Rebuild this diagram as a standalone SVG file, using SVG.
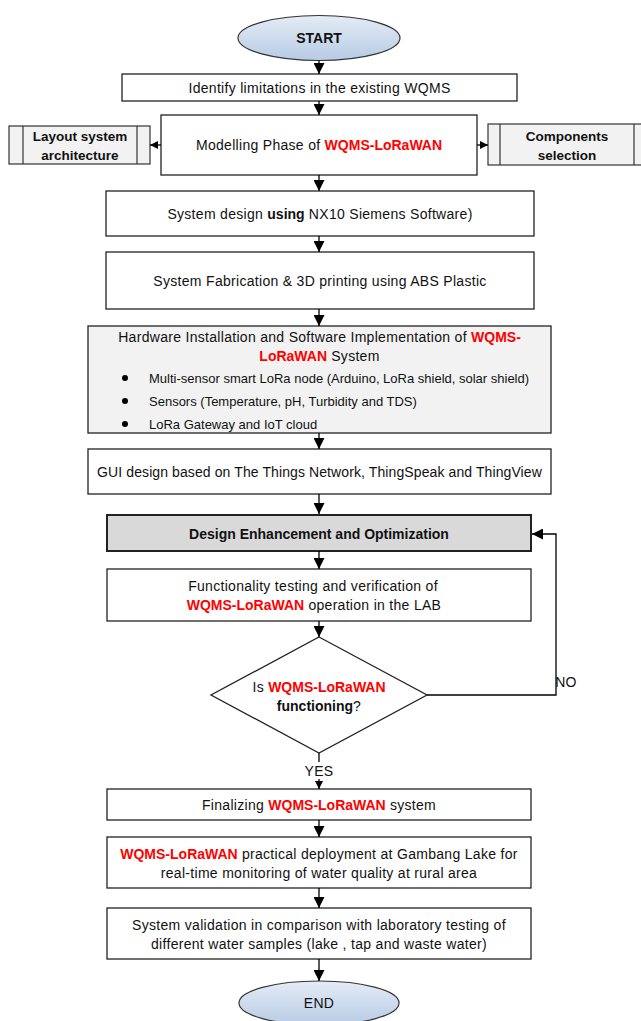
<svg xmlns="http://www.w3.org/2000/svg" width="641" height="1021" viewBox="0 0 641 1021">
<defs>
<linearGradient id="eg" x1="0" y1="0" x2="0" y2="1">
<stop offset="0" stop-color="#e4ecf6"/>
<stop offset="1" stop-color="#b7cbe4"/>
</linearGradient>
<marker id="ah" markerWidth="11" markerHeight="11" refX="11" refY="5.5" orient="auto" markerUnits="userSpaceOnUse">
<path d="M0,0 L11,5.5 L0,11 z" fill="#000"/>
</marker>
<marker id="ahs" markerWidth="8" markerHeight="8" refX="8" refY="4" orient="auto" markerUnits="userSpaceOnUse">
<path d="M0,0 L8,4 L0,8 z" fill="#000"/>
</marker>
</defs>
<style>
.box{fill:#fff;stroke:#222;stroke-width:1.3}
.grey{fill:#f2f2f2;stroke:#222;stroke-width:1.3}
.dark{fill:#d9d9d9;stroke:#222;stroke-width:2}
.ell{fill:url(#eg);stroke:#333;stroke-width:1.2}
.side{fill:#f2f2f2;stroke:#333;stroke-width:1.2}
text{font-family:"Liberation Sans",Arial,sans-serif;font-size:14px;letter-spacing:0.3px;fill:#111;text-anchor:middle;dominant-baseline:central}
.b{font-weight:bold;letter-spacing:0}
.r{fill:#ff0000;font-weight:bold;letter-spacing:0}
.l{text-anchor:start}
.s{font-size:13px;letter-spacing:0}
.sb{font-size:13.5px}
.con{stroke:#000;stroke-width:1.3;fill:none}
</style>

<g id="start">
<ellipse class="ell" cx="319" cy="38" rx="81" ry="22.5"/>
<text x="319" y="38" class="b">START</text>
</g>

<g id="identify">
<rect class="box" x="122" y="74" width="395" height="27"/>
<text x="319.5" y="88">Identify limitations in the existing WQMS</text>
</g>

<g id="modelling">
<rect class="box" x="161" y="115" width="316" height="60"/>
<text x="319" y="145">Modelling Phase of <tspan class="r">WQMS-LoRaWAN</tspan></text>
</g>

<g id="layout">
<rect class="side" x="9" y="126" width="141" height="38"/>
<line x1="23" y1="126" x2="23" y2="164" stroke="#333" stroke-width="1.2"/>
<line x1="137" y1="126" x2="137" y2="164" stroke="#333" stroke-width="1.2"/>
<text x="80" y="136" class="b sb">Layout system</text>
<text x="80" y="155" class="b sb">architecture</text>
</g>

<g id="components">
<rect class="side" x="488" y="124" width="160" height="41"/>
<line x1="500" y1="124" x2="500" y2="165" stroke="#333" stroke-width="1.2"/>
<line x1="634" y1="124" x2="634" y2="165" stroke="#333" stroke-width="1.2"/>
<text x="567" y="136" class="b sb">Components</text>
<text x="567" y="155" class="b sb">selection</text>
</g>

<g id="sysdesign">
<rect class="box" x="106" y="191" width="428" height="45"/>
<text x="320" y="214">System design <tspan class="b">using</tspan>  NX10 Siemens Software)</text>
</g>

<g id="fabrication">
<rect class="box" x="106" y="252" width="428" height="57"/>
<text x="320" y="281">System Fabrication &amp; 3D printing using ABS Plastic</text>
</g>

<g id="hardware">
<rect class="grey" x="88" y="326" width="463" height="107"/>
<text x="319.5" y="337">Hardware Installation and Software Implementation of <tspan class="r">WQMS-</tspan></text>
<text x="319.5" y="356"><tspan class="r">LoRaWAN</tspan> System</text>
<circle cx="125" cy="378" r="3"/>
<circle cx="125" cy="401" r="3"/>
<circle cx="125" cy="424" r="3"/>
<text x="149" y="378" class="l s">Multi-sensor smart LoRa node (Arduino, LoRa shield, solar shield)</text>
<text x="149" y="401" class="l s">Sensors (Temperature, pH, Turbidity and TDS)</text>
<text x="149" y="424" class="l s">LoRa Gateway and IoT cloud</text>
</g>

<g id="gui">
<rect class="box" x="88" y="449" width="463" height="45"/>
<text x="319.5" y="472" style="letter-spacing:0.1px">GUI design based on The Things Network, ThingSpeak and ThingView</text>
</g>

<g id="enhancement">
<rect class="dark" x="107" y="515" width="424" height="36"/>
<text x="319" y="534" class="b">Design Enhancement and Optimization</text>
</g>

<g id="functionality">
<rect class="box" x="107" y="569" width="424" height="52"/>
<text x="313" y="586">Functionality testing and verification  of</text>
<text x="314" y="605"><tspan class="r">WQMS-LoRaWAN</tspan> operation in the LAB</text>
</g>

<g id="decision">
<polygon class="box" points="319,637 427,695 319,753 211,695"/>
<text x="319" y="687">Is <tspan class="r">WQMS-LoRaWAN</tspan></text>
<text x="319" y="706"><tspan class="b">functioning</tspan>?</text>
</g>

<g id="finalizing">
<rect class="box" x="107" y="789" width="424" height="31"/>
<text x="319" y="805">Finalizing <tspan class="r">WQMS-LoRaWAN</tspan> system</text>
</g>

<g id="deployment">
<rect class="box" x="107" y="837" width="424" height="51"/>
<text x="319" y="854"><tspan class="r">WQMS-LoRaWAN</tspan> practical deployment at Gambang Lake for</text>
<text x="319" y="873">real-time monitoring of water quality at rural area</text>
</g>

<g id="validation">
<rect class="box" x="107" y="908" width="424" height="51"/>
<text x="319" y="925">System validation in comparison with laboratory testing of</text>
<text x="319" y="944">different water samples (lake , tap and waste water)</text>
</g>

<g id="end">
<ellipse class="ell" cx="319" cy="1003" rx="80" ry="22"/>
<text x="319" y="1003">END</text>
</g>

<g id="connectors">
<line class="con" x1="319" y1="60.5" x2="319" y2="74" marker-end="url(#ah)"/>
<line class="con" x1="319" y1="101" x2="319" y2="115" marker-end="url(#ah)"/>
<line class="con" x1="161" y1="145" x2="150" y2="145" marker-end="url(#ahs)"/>
<line class="con" x1="477" y1="145" x2="488" y2="145" marker-end="url(#ahs)"/>
<line class="con" x1="319" y1="175" x2="319" y2="191" marker-end="url(#ah)"/>
<line class="con" x1="319" y1="236" x2="319" y2="252" marker-end="url(#ah)"/>
<line class="con" x1="319" y1="309" x2="319" y2="326" marker-end="url(#ah)"/>
<line class="con" x1="319" y1="433" x2="319" y2="449" marker-end="url(#ah)"/>
<line class="con" x1="319" y1="494" x2="319" y2="514" marker-end="url(#ah)"/>
<line class="con" x1="319" y1="551" x2="319" y2="569" marker-end="url(#ah)"/>
<line class="con" x1="319" y1="621" x2="319" y2="637" marker-end="url(#ah)"/>
<polyline class="con" points="427,695 556,695 556,534 532,534" marker-end="url(#ah)"/>
<line class="con" x1="319" y1="753" x2="319" y2="762"/>
<line class="con" x1="319" y1="779" x2="319" y2="789" marker-end="url(#ahs)"/>
<line class="con" x1="319" y1="820" x2="319" y2="837" marker-end="url(#ah)"/>
<line class="con" x1="319" y1="888" x2="319" y2="908" marker-end="url(#ah)"/>
<line class="con" x1="319" y1="959" x2="319" y2="981" marker-end="url(#ah)"/>
<text x="319" y="771">YES</text>
<text x="566" y="682">NO</text>
</g>
</svg>
